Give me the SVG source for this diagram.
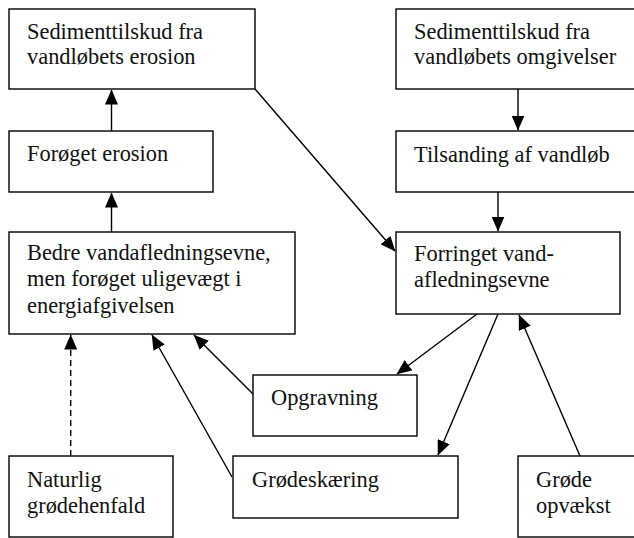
<svg xmlns="http://www.w3.org/2000/svg" width="634" height="538" viewBox="0 0 634 538">
<style>
.box{fill:#fff;stroke:#000;stroke-width:1.4}
.t{font-family:"Liberation Serif","Times New Roman",serif;font-size:22.4px;fill:#111}
.c{stroke:#000;stroke-width:1.4;fill:none}
.d{stroke-dasharray:6 4}
</style>
<defs>
<marker id="ah" markerUnits="userSpaceOnUse" markerWidth="15" markerHeight="13" refX="14.5" refY="6.5" orient="auto" viewBox="0 0 15 13">
<path d="M0,0 L15,6.5 L0,13 z" fill="#000"/>
</marker>
</defs>
<rect width="634" height="538" fill="#fff"/>
<g id="connectors">
<line class="c" x1="111.5" y1="131" x2="111.5" y2="90" marker-end="url(#ah)"/>
<line class="c" x1="111.5" y1="232" x2="111.5" y2="193" marker-end="url(#ah)"/>
<line class="c" x1="255" y1="89" x2="395" y2="251" marker-end="url(#ah)"/>
<line class="c" x1="518" y1="89" x2="518" y2="130" marker-end="url(#ah)"/>
<line class="c" x1="498" y1="192" x2="498" y2="231" marker-end="url(#ah)"/>
<line class="c" x1="477" y1="314" x2="397" y2="374" marker-end="url(#ah)"/>
<line class="c" x1="498" y1="314" x2="438" y2="455" marker-end="url(#ah)"/>
<line class="c" x1="580" y1="456" x2="519" y2="315" marker-end="url(#ah)"/>
<line class="c" x1="253" y1="394" x2="194" y2="335" marker-end="url(#ah)"/>
<line class="c" x1="232" y1="477" x2="152" y2="335" marker-end="url(#ah)"/>
<line class="c d" x1="70.7" y1="456" x2="70.7" y2="335" marker-end="url(#ah)"/>
</g>
<g id="n_sed_erosion">
<rect class="box" x="9" y="9" width="246" height="80"/>
<text class="t" x="27" y="39">Sedimenttilskud fra</text>
<text class="t" x="27" y="64">vandløbets erosion</text>
</g>
<g id="n_sed_omgivelser">
<rect class="box" x="396" y="9" width="250" height="80"/>
<text class="t" x="414" y="39">Sedimenttilskud fra</text>
<text class="t" x="414" y="64">vandløbets omgivelser</text>
</g>
<g id="n_foroget_erosion">
<rect class="box" x="9" y="131" width="204" height="61"/>
<text class="t" x="27" y="161">Forøget erosion</text>
</g>
<g id="n_tilsanding">
<rect class="box" x="396" y="131" width="250" height="61"/>
<text class="t" x="414" y="162">Tilsanding af vandløb</text>
</g>
<g id="n_bedre">
<rect class="box" x="9" y="232" width="286" height="102"/>
<text class="t" x="27" y="259.5">Bedre vandafledningsevne,</text>
<text class="t" x="27" y="286">men forøget uligevægt i</text>
<text class="t" x="27" y="312.5">energiafgivelsen</text>
</g>
<g id="n_forringet">
<rect class="box" x="396" y="232" width="224" height="82"/>
<text class="t" x="414" y="261">Forringet vand-</text>
<text class="t" x="414" y="287">afledningsevne</text>
</g>
<g id="n_opgravning">
<rect class="box" x="253" y="375" width="164" height="61"/>
<text class="t" x="271" y="405">Opgravning</text>
</g>
<g id="n_grodeskaering">
<rect class="box" x="233" y="456" width="225" height="62"/>
<text class="t" x="252" y="487">Grødeskæring</text>
</g>
<g id="n_grode_opvaekst">
<rect class="box" x="518" y="456" width="130" height="81"/>
<text class="t" x="536" y="487">Grøde</text>
<text class="t" x="536" y="513">opvækst</text>
</g>
<g id="n_naturlig">
<rect class="box" x="9" y="456" width="164" height="81"/>
<text class="t" x="27" y="487">Naturlig</text>
<text class="t" x="27" y="512.5">grødehenfald</text>
</g>
</svg>
